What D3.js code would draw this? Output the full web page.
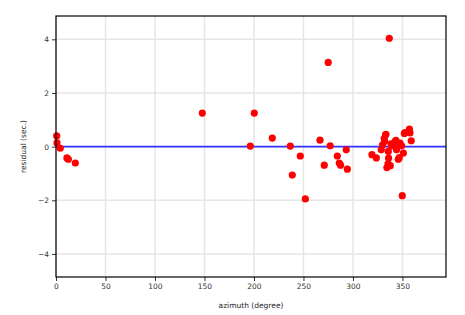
<!DOCTYPE html>
<html>
<head>
<meta charset="utf-8">
<script src="https://cdn.jsdelivr.net/npm/d3@7"></script>
<style>
  body { margin: 0; background: #fff; }
  text { font-family: "DejaVu Sans", sans-serif; }
</style>
</head>
<body>
<div id="chart"></div>
<script>
// residuals per station azimuth
const azimuth = [0.7, 1, 4.3, 11, 12.5, 19.5,
  147.8, 200.3, 196.3, 218.5, 236.7, 246.8, 238.7, 251.9,
  266.7, 275, 277, 293.2, 284.2, 271, 286.2, 287.5, 294.3,
  319.2, 323.6, 328.6, 333.3, 331.6, 330, 335.7, 336, 335.4, 334.3, 337.7,
  343.4, 340.7, 346.8, 349.2, 350.9, 346.8, 345.8, 351.9, 357, 357.6, 358.9,
  349.8, 336.7, 333, 342.4, 352.5, 339, 347.5, 344, 338.5, 332];
const residual = [0.4, 0.14, -0.06, -0.42, -0.47, -0.61,
  1.25, 1.25, 0.02, 0.32, 0.02, -0.35, -1.06, -1.95,
  0.24, 3.14, 0.03, -0.12, -0.35, -0.69, -0.61, -0.69, -0.84,
  -0.3, -0.42, -0.12, 0.46, 0.31, 0.07, -0.18, -0.43, -0.64, -0.78, -0.71,
  0.23, 0.07, 0.04, 0.03, -0.24, -0.41, -0.47, 0.49, 0.65, 0.51, 0.22,
  -1.83, 4.04, 0.44, 0.19, 0.52, 0.03, 0.13, -0.12, 0.1, 0.2];
const xTicks = [0, 50, 100, 150, 200, 250, 300, 350];
const yTicks = [-4, -2, 0, 2, 4];

const width = 465, height = 315;
const margin = { top: 16, right: 19, bottom: 38, left: 56 };
const w = width - margin.left - margin.right;
const h = height - margin.top - margin.bottom;

const svg = d3.select("#chart").append("svg")
    .attr("width", width)
    .attr("height", height);

const g = svg.append("g")
    .attr("transform", `translate(${margin.left},${margin.top})`);

const x = d3.scaleLinear().domain([0, 394]).range([0, w]);
const y = d3.scaleLinear().domain([-4.86, 4.87]).range([h, 0]);

// grid
g.selectAll(".gx").data(xTicks).enter().append("line")
    .attr("x1", d => x(d)).attr("x2", d => x(d))
    .attr("y1", 0).attr("y2", h)
    .attr("stroke", "#e6e6e6").attr("stroke-width", 1.5);
g.selectAll(".gy").data(yTicks).enter().append("line")
    .attr("x1", 0).attr("x2", w)
    .attr("y1", d => y(d)).attr("y2", d => y(d))
    .attr("stroke", "#e6e6e6").attr("stroke-width", 1.5);

// zero line
g.append("line")
    .attr("x1", 0).attr("x2", w)
    .attr("y1", y(0)).attr("y2", y(0))
    .attr("stroke", "#3333ff").attr("stroke-width", 1.8);

g.selectAll("circle")
    .data(azimuth.map((a, i) => [a, residual[i]]))
    .enter().append("circle")
    .attr("cx", d => x(d[0]))
    .attr("cy", d => y(d[1]))
    .attr("r", 3.6)
    .attr("fill", "#ff0000");

// axes
const fmt = d => d < 0 ? "\u2212" + Math.abs(d) : d;
const xAxis = g.append("g")
    .attr("transform", `translate(0,${h})`)
    .call(d3.axisBottom(x).tickValues(xTicks).tickFormat(fmt).tickSize(4).tickPadding(3));
const yAxis = g.append("g")
    .call(d3.axisLeft(y).tickValues(yTicks).tickFormat(fmt).tickSize(4).tickPadding(3));
[xAxis, yAxis].forEach(a => {
    a.select(".domain").remove();
    a.selectAll("text").attr("font-size", 7.5).attr("fill", "#333")
        .attr("font-family", "DejaVu Sans, sans-serif");
    a.selectAll("line").attr("stroke", "#333");
});

g.append("rect")
    .attr("width", w).attr("height", h)
    .attr("fill", "none").attr("stroke", "#000").attr("stroke-width", 1.2);

svg.append("text")
    .attr("x", margin.left + w / 2)
    .attr("y", 308)
    .attr("text-anchor", "middle")
    .attr("font-size", 7.5)
    .attr("fill", "#222")
    .text("azimuth (degree)");

svg.append("text")
    .attr("transform", `translate(26,${margin.top + h / 2}) rotate(-90)`)
    .attr("text-anchor", "middle")
    .attr("font-size", 7.5)
    .attr("fill", "#222")
    .text("residual (sec.)");
</script>
</body>
</html>
